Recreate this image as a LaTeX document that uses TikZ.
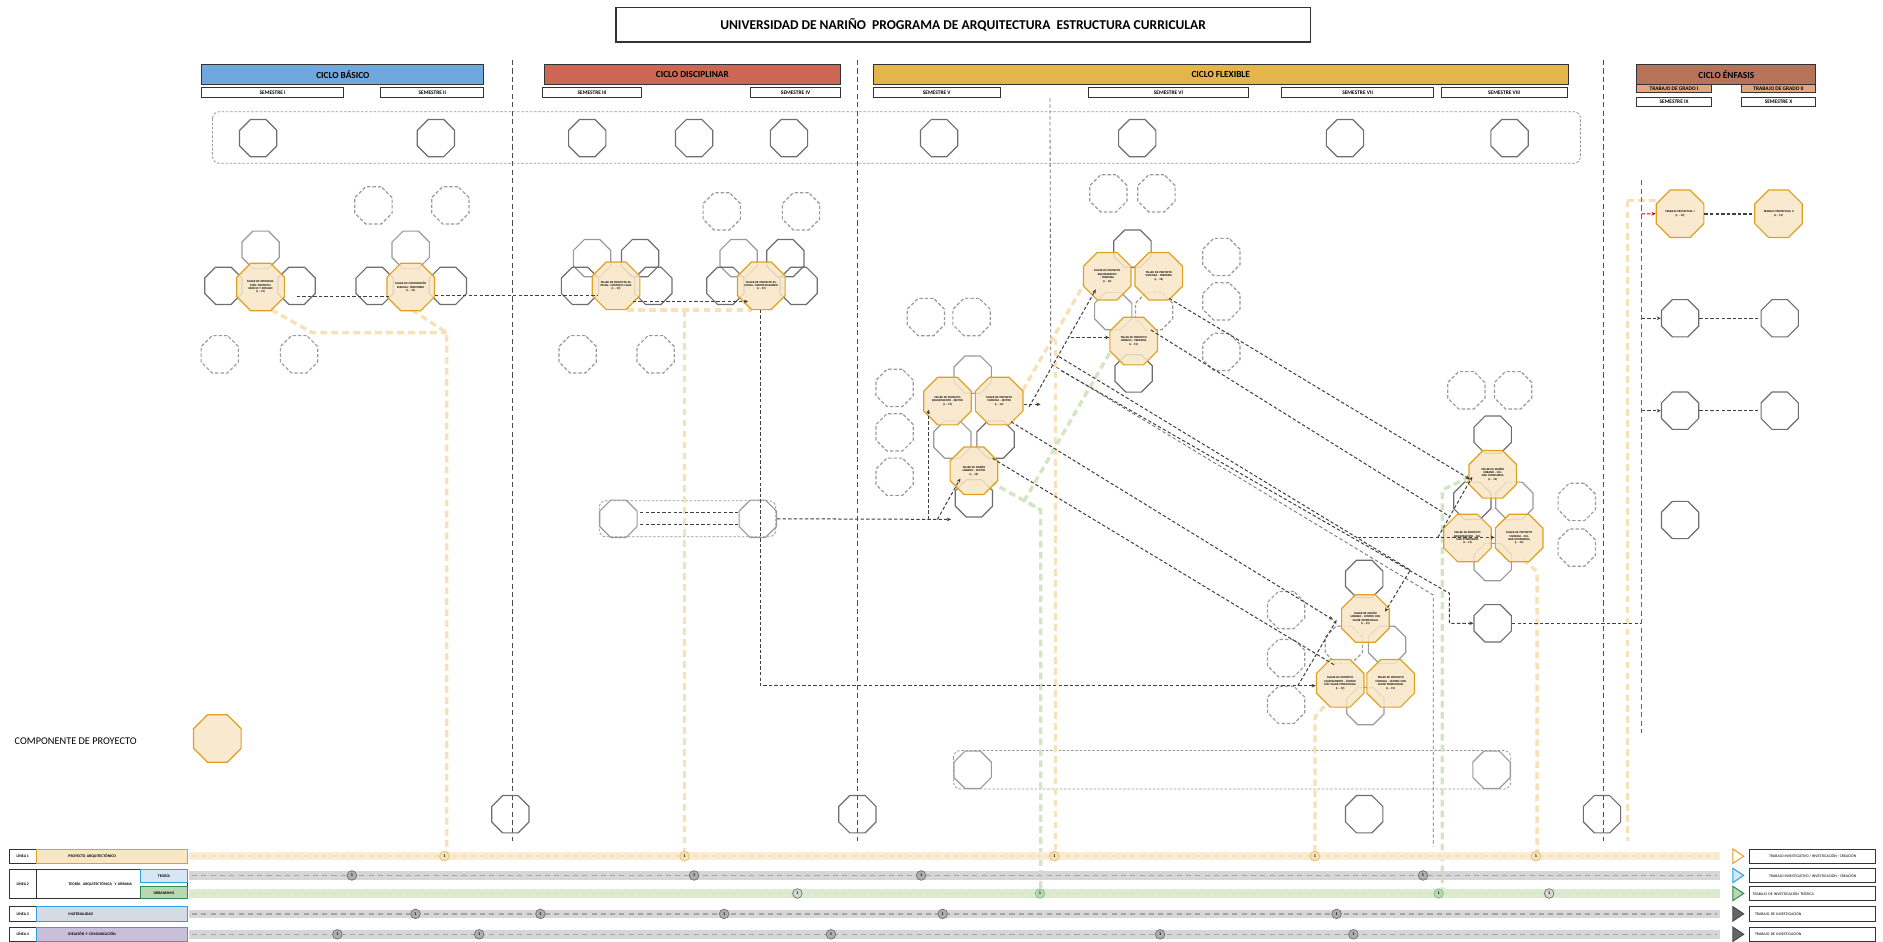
\documentclass[tikz,border=0pt]{standalone}
\usepackage{fontspec}
\setmainfont{Carlito}
\usetikzlibrary{shapes.geometric,arrows.meta,calc}
\definecolor{cbas}{HTML}{6FA8DC}
\definecolor{cdis}{HTML}{CC6655}
\definecolor{cflex}{HTML}{E3B54A}
\definecolor{cenf}{HTML}{B5735A}
\definecolor{ctg}{HTML}{E6A582}
\definecolor{orfill}{HTML}{F8E6C6}
\definecolor{ordraw}{HTML}{E0A020}
\definecolor{octg}{HTML}{6E6E6E}
\definecolor{octl}{HTML}{9A9A9A}
\definecolor{paleor}{HTML}{F7E1B8}
\definecolor{palegr}{HTML}{D2E6C4}
\definecolor{bandg}{HTML}{D6D6D6}
\definecolor{bandgd}{HTML}{A6A6A6}
\definecolor{bando}{HTML}{FBEBD3}
\definecolor{bandgr}{HTML}{DCEBD0}
\definecolor{teof}{HTML}{D7E6F5}
\definecolor{teod}{HTML}{2BA3E0}
\definecolor{urbf}{HTML}{B9D7B0}
\definecolor{urbd}{HTML}{2E8B57}
\definecolor{matf}{HTML}{D5DBE5}
\definecolor{idef}{HTML}{C9BFDC}
\tikzset{
  oct/.style={regular polygon, regular polygon sides=8, minimum size=0.84cm, inner sep=0pt, line width=0.7pt},
  goct/.style={oct, draw=octg},
  loct/.style={oct, draw=octl},
  doct/.style={oct, draw=octl, dash pattern=on 2pt off 1.2pt},
  toct/.style={oct, draw=octg},
  ooct/.style={oct, minimum size=1.0cm, draw=ordraw, fill=orfill, fill opacity=0.85, text opacity=1, align=center, font=\fontsize{1.7}{2.0}\selectfont\bfseries, text width=0.7cm},
  cyc/.style={draw=black!80, line width=0.6pt, font=\fontsize{5.5}{6}\selectfont\bfseries, inner sep=0pt},
  sem/.style={draw=black!80, fill=white, line width=0.6pt, font=\fontsize{3.2}{4}\selectfont\bfseries, inner sep=0pt},
  vsep/.style={draw=black!70, line width=0.5pt, dash pattern=on 3pt off 2pt},
  gline/.style={draw=black!55, line width=0.5pt, dash pattern=on 2pt off 1.5pt},
  cdash/.style={draw=black!75, line width=0.6pt, dash pattern=on 2pt off 1.3pt},
  carr/.style={cdash, -{Stealth[length=2.5pt,width=2.2pt]}},
  podash/.style={draw=paleor, line width=2pt, dash pattern=on 4pt off 2.5pt},
  pgdash/.style={draw=palegr, line width=2pt, dash pattern=on 4pt off 2.5pt},
  rrect/.style={draw=octl, line width=0.5pt, dash pattern=on 1.5pt off 1pt, rounded corners=4pt},
  lbox/.style={draw=black!80, line width=0.6pt, inner sep=0pt, font=\fontsize{2.3}{3}\selectfont\bfseries},
  bmark/.style={circle, draw=octg, fill=octl!80, minimum size=0.2cm, inner sep=0pt, font=\fontsize{2.5}{3}\selectfont\bfseries},
  omark/.style={circle, draw=ordraw!70, fill=paleor, minimum size=0.2cm, inner sep=0pt, font=\fontsize{2.5}{3}\selectfont\bfseries},
  gmark/.style={circle, draw=urbd!60, fill=urbf, minimum size=0.2cm, inner sep=0pt, font=\fontsize{2.5}{3}\selectfont\bfseries}
}
\begin{document}
\begin{tikzpicture}[x=0.025cm,y=-0.025cm]
\useasboundingbox (0,0) rectangle (1568,784);
\fill[white] (0,0) rectangle (1568,784);
% title
\node[draw=black!80, line width=0.7pt, minimum width=578*0.025cm, minimum height=29*0.025cm, inner sep=0pt, font=\fontsize{8}{9}\selectfont\bfseries] (title) at (802,20.5) {UNIVERSIDAD DE NARIÑO\ \ PROGRAMA DE ARQUITECTURA\ \ ESTRUCTURA CURRICULAR};
% cycles
\node[cyc, fill=cbas, minimum width=235*0.025cm, minimum height=16*0.025cm] (cb) at (285.5,62) {CICLO BÁSICO};
\node[cyc, fill=cdis, minimum width=247*0.025cm, minimum height=16*0.025cm] (cd) at (576.5,62) {CICLO DISCIPLINAR};
\node[cyc, fill=cflex, minimum width=579*0.025cm, minimum height=17*0.025cm] (cf) at (1016.5,62) {CICLO FLEXIBLE};
\node[cyc, fill=cenf, minimum width=149*0.025cm, minimum height=16*0.025cm] (ce) at (1437.5,62) {CICLO ÉNFASIS};
% semesters
\node[sem, minimum width=118*0.025cm, minimum height=8*0.025cm] (s1) at (227,77) {SEMESTRE I};
\node[sem, minimum width=86*0.025cm, minimum height=8*0.025cm] (s2) at (360,77) {SEMESTRE II};
\node[sem, minimum width=82*0.025cm, minimum height=8*0.025cm] (s3) at (493,77) {SEMESTRE III};
\node[sem, minimum width=75*0.025cm, minimum height=8*0.025cm] (s4) at (662.5,77) {SEMESTRE IV};
\node[sem, minimum width=106*0.025cm, minimum height=8*0.025cm] (s5) at (780,77) {SEMESTRE V};
\node[sem, minimum width=134*0.025cm, minimum height=8*0.025cm] (s6) at (973,77) {SEMESTRE VI};
\node[sem, minimum width=127*0.025cm, minimum height=8*0.025cm] (s7) at (1130.5,77) {SEMESTRE VII};
\node[sem, minimum width=105*0.025cm, minimum height=8*0.025cm] (s8) at (1252.5,77) {SEMESTRE VIII};
\node[sem, fill=ctg, minimum width=62*0.025cm, minimum height=7*0.025cm] (tg1) at (1394,73.5) {TRABAJO DE GRADO I};
\node[sem, fill=ctg, minimum width=62*0.025cm, minimum height=7*0.025cm] (tg2) at (1481,73.5) {TRABAJO DE GRADO II};
\node[sem, minimum width=62*0.025cm, minimum height=8*0.025cm] (s9) at (1394,85) {SEMESTRE IX};
\node[sem, minimum width=62*0.025cm, minimum height=8*0.025cm] (s10) at (1481,85) {SEMESTRE X};
% vertical separators
\draw[vsep] (427,50) -- (427,700);
\draw[vsep] (714,50) -- (714,700);
\draw[vsep] (1335,50) -- (1335,700);
% dashed rounded rects
\draw[rrect] (177,93) rectangle (1316,136);
\draw[rrect] (499,417) rectangle (646,447);
\draw[rrect] (794,625) rectangle (1258,657);
% top row
\foreach \n/\x in {1/215,2/363,3/489,4/578,5/657,6/782,7/947,8/1120,9/1257}
  \node[toct] (t\n) at (\x,115) {};
% pale lines (behind)
\draw[podash] (522,258) -- (626,258);
\draw[podash] (570,258) -- (570,712);
\draw[podash] (226,258) -- (260,277) -- (372,277);
\draw[podash] (343,258) -- (372,277) -- (372,712);
\draw[podash] (847,333) -- (903,236);
\draw[podash] (879,282) -- (879,712);
\draw[podash] (1103,588) -- (1095,597) -- (1095,712);
\draw[podash] (1268,466) -- (1280,476) -- (1280,712);
\draw[pgdash] (924,294) -- (853.2,416.4) -- (866.6,424.7) -- (866.6,744);
\draw[pgdash] (824.5,401) -- (866.6,424.7);
\draw[pgdash] (1224,397) -- (1201,408) -- (1201,744);
\draw[podash] (1355,167) -- (1355,700);
\draw[podash] (1355,167) -- (1384,167);
% semester I
\node[loct] (g1a) at (217,208) {};
\node[goct] (g1l) at (186,238) {};
\node[goct] (g1r) at (247,238) {};
\node[doct] (d1a) at (183,295) {};
\node[doct] (d1b) at (249,295) {};
\node[ooct] (o1) at (217,239) {TALLER DE INTRODUCCIÓN: PROYECTO, ESPACIO Y REFUGIO\\(L - 19)};
% semester II
\node[loct] (g2a) at (342,208) {};
\node[goct] (g2l) at (312,238) {};
\node[goct] (g2r) at (373,238) {};
\node[doct] (d2a) at (311,171) {};
\node[doct] (d2b) at (375,171) {};
\node[ooct] (o2) at (342,239) {TALLER DE COMPOSICIÓN ESPACIAL: TERRITORIO\\(L - 19)};
% semester III
\node[loct] (g3a) at (493,215) {};
\node[goct] (g3b) at (533,215) {};
\node[goct] (g3l) at (483,238) {};
\node[goct] (g3r) at (544,238) {};
\node[doct] (d3a) at (481,295) {};
\node[doct] (d3b) at (546,295) {};
\node[ooct] (o3) at (513,238) {TALLER DE PROYECTO ESPACIAL: CONTEXTO CALLE\\(L - 19)};
% semester IV
\node[loct] (g4a) at (615,215) {};
\node[goct] (g4b) at (654,215) {};
\node[goct] (g4l) at (604,238) {};
\node[goct] (g4r) at (665,238) {};
\node[doct] (d4a) at (601,176) {};
\node[doct] (d4b) at (667,176) {};
\node[ooct] (o4) at (634,238) {TALLER DE PROYECTO ESPACIAL: CONTEXTO BARRIO\\(L - 19)};
% semester V
\node[loct] (g5a) at (810,312) {};
\node[loct] (g5l) at (793,366) {};
\node[goct] (g5r) at (829,366) {};
\node[goct] (g5b) at (811,415) {};
\node[doct] (d5a) at (745,323) {};
\node[doct] (d5b) at (745,360) {};
\node[doct] (d5c) at (745,397) {};
\node[doct] (d5d) at (771,264) {};
\node[doct] (d5e) at (809,264) {};
\node[ooct] (o5a) at (789,334) {TALLER DE PROYECTO EQUIPAMIENTO - SECTOR\\(L - 19)};
\node[ooct] (o5b) at (832,334) {TALLER DE PROYECTO VIVIENDA - SECTOR\\(L - 19)};
\node[ooct] (o5c) at (811,392) {TALLER DE DISEÑO URBANO - SECTOR\\(L - 19)};
% semester VI
\node[goct] (g6a) at (943,207) {};
\node[loct] (g6l) at (927,259) {};
\node[doct] (g6r) at (961,259) {};
\node[goct] (g6b) at (944,311) {};
\node[doct] (d6a) at (923,161) {};
\node[doct] (d6b) at (963,161) {};
\node[doct] (d6c) at (1017,214) {};
\node[doct] (d6d) at (1017,251) {};
\node[doct] (d6e) at (1017,293) {};
\node[ooct] (o6a) at (922,230) {TALLER DE PROYECTO EQUIPAMIENTO - PERIFERIA\\(L - 19)};
\node[ooct] (o6b) at (965,230) {TALLER DE PROYECTO VIVIENDA - PERIFERIA\\(L - 19)};
\node[ooct] (o6c) at (944,284) {TALLER DE PROYECTO URBANO - PERIFERIA\\(L - 19)};
% semester VII
\node[goct] (g7a) at (1136,482) {};
\node[doct] (g7l) at (1119,537) {};
\node[loct] (g7r) at (1155,537) {};
\node[loct] (g7b) at (1137,588) {};
\node[doct] (d7a) at (1071,508) {};
\node[doct] (d7b) at (1071,548) {};
\node[doct] (d7c) at (1071,587) {};
\node[ooct] (o7a) at (1137,515) {TALLER DE DISEÑO URBANO - CENTRO CON VALOR PATRIMONIAL\\(L - 19)};
\node[ooct] (o7b) at (1116,569) {TALLER DE PROYECTO EQUIPAMIENTO - CENTRO CON VALOR PATRIMONIAL\\(L - 19)};
\node[ooct] (o7c) at (1158,569) {TALLER DE PROYECTO VIVIENDA - CENTRO CON VALOR PATRIMONIAL\\(L - 19)};
% semester VIII
\node[goct] (g8a) at (1243,362) {};
\node[goct] (g8l) at (1226,417) {};
\node[loct] (g8r) at (1261,417) {};
\node[loct] (g8b) at (1243,468) {};
\node[doct] (d8a) at (1313,418) {};
\node[doct] (d8b) at (1313,456) {};
\node[doct] (d8c) at (1221,325) {};
\node[doct] (d8d) at (1260,325) {};
\node[goct] (g8c) at (1243,519) {};
\node[ooct] (o8a) at (1243,395) {TALLER DE DISEÑO URBANO - CIUDAD INTERMEDIA\\(L - 19)};
\node[ooct] (o8b) at (1222,448) {TALLER DE PROYECTO EQUIPAMIENTO - CIUDAD INTERMEDIA\\(L - 19)};
\node[ooct] (o8c) at (1265,448) {TALLER DE PROYECTO VIVIENDA - CIUDAD INTERMEDIA\\(L - 19)};
% enfasis
\node[ooct] (o9a) at (1399,178) {TRABAJO PROYECTUAL I\\(L - 19)};
\node[ooct] (o9b) at (1481,178) {TRABAJO PROYECTUAL II\\(L - 19)};
\node[goct] (e1) at (1399,265) {};
\node[goct] (e2) at (1482,265) {};
\node[goct] (e3) at (1399,342) {};
\node[goct] (e4) at (1482,342) {};
\node[goct] (e5) at (1399,433) {};
% rect contents
\node[loct] (ra) at (515,432) {};
\node[loct] (rb) at (631,432) {};
\node[loct] (rc) at (810,641) {};
\node[loct] (rd) at (1242,641) {};
% bottom octagons
\node[goct] (b1) at (425,678) {};
\node[goct] (b2) at (714,678) {};
\node[goct] (b3) at (1136,678) {};
\node[goct] (b4) at (1334,678) {};
% legend
\node[anchor=west, font=\fontsize{6.1}{7}\selectfont, inner sep=0pt] (leg) at (12,617) {COMPONENTE DE PROYECTO};
\node[ooct] (lego) at (181,615) {};
% connectors
\draw[cdash] (g1r.center |- 0,247) -- (325,247);
\draw[cdash] (o2.east |- 0,246) -- (497,246);
\draw[carr] (527,251) -- (623,251);
\draw[carr] (633,258) -- (633,571) -- (o7b.west |- 0,571);
\draw[carr] (1080.7,571) -- (1113,516.3);
\draw[cdash] (533,427) -- (616,427);
\draw[cdash] (533,437) -- (616,437);
\draw[carr] (rb.east) -- (792,432.5);
\draw[carr] (773,432.5) -- (773,341);
\draw[carr] (780.6,432.5) -- (799.7,398.4);
\draw[carr] (o5b.east |- 0,336.7) -- (866.6,336.7);
\draw[carr] (857,338.7) -- (912.5,241);
\draw[carr] (891.5,281) -- (o6c.west |- 0,281);
\draw[gline] (874.3,82) -- (875,303) -- (1193.5,495.5) -- (1193.5,705);
\draw[carr] (973.6,248.5) -- (1224,399);
\draw[cdash] (958.4,274.8) -- (1207,430);
\draw[carr] (881.9,297) -- (1174.4,474.7) -- (1153.3,509.4);
\draw[carr] (883.8,308.7) -- (1206.9,494) -- (1206.9,519) -- (g8c.west);
\draw[carr] (841.8,351.2) -- (1110,516);
\draw[cdash] (826.5,381.7) -- (1111.3,553.8);
\draw[carr] (1130.4,447.5) -- (o8c.west |- 0,447.5);
\draw[carr] (1197.3,447.5) -- (1226,397);
\draw[cdash] (g8c.east) -- (1367,519);
\draw[vsep, draw=black!60] (1367,150) -- (1367,610);
\draw[carr, draw=red!80!black] (1367,178) -- (o9a.west);
\draw[cdash, line width=0.9pt] (o9a.east) -- (o9b.west);
\draw[carr] (1367,265) -- (e1.west);
\draw[cdash] (e1.east) -- (e2.west);
\draw[carr] (1367,342) -- (e3.west);
\draw[cdash] (e3.east) -- (e4.west);
% bands
\foreach \y/\c/\d in {713/bando/paleor,729/bandg/bandgd,744/bandgr/palegr,761/bandg/bandgd,778/bandg/bandgd}{
  \fill[\c] (157,\y-3.5) rectangle (1432,\y+3.5);
  \draw[\d, line width=0.9pt, dash pattern=on 3pt off 2.5pt] (160,\y) -- (1430,\y);
}
% left legend boxes
\node[lbox, minimum width=22*0.025cm, minimum height=12*0.025cm] (l1) at (19,713) {LÍNEA 1};
\node[lbox, draw=ordraw, fill=orfill, minimum width=126*0.025cm, minimum height=12*0.025cm, text width=2.9cm] (p1) at (93,713) {\hspace*{0.55cm}PROYECTO ARQUITECTÓNICO};
\node[lbox, minimum width=22*0.025cm, minimum height=24*0.025cm] (l2) at (19,736) {LÍNEA 2};
\node[lbox, minimum width=126*0.025cm, minimum height=24*0.025cm, text width=2.9cm] (p2) at (93,736) {\hspace*{0.55cm}TEORÍA\ \ ARQUITECTÓNICA\ \ Y URBANA};
\node[lbox, draw=teod, fill=teof, minimum width=39*0.025cm, minimum height=11*0.025cm] (p2a) at (136.5,729.5) {TEORÍA};
\node[lbox, draw=urbd, fill=urbf, minimum width=39*0.025cm, minimum height=10*0.025cm] (p2b) at (136.5,743.5) {URBANISMO};
\node[lbox, minimum width=22*0.025cm, minimum height=12*0.025cm] (l3) at (19,761) {LÍNEA 3};
\node[lbox, draw=teod, fill=matf, minimum width=126*0.025cm, minimum height=12*0.025cm, text width=2.9cm] (p3) at (93,761) {\hspace*{0.55cm}MATERIALIDAD};
\node[lbox, minimum width=22*0.025cm, minimum height=12*0.025cm] (l4) at (19,778) {LÍNEA 4};
\node[lbox, draw=teod, fill=idef, minimum width=126*0.025cm, minimum height=12*0.025cm, text width=2.9cm] (p4) at (93,778) {\hspace*{0.55cm}IDEACIÓN Y COMUNICACIÓN};
% right triangles
\foreach \y/\c/\f in {713/ordraw/white,729/teod/teof,744/urbd/urbf,761/black!70/black!60,778/black!70/black!60}{
  \draw[\c, fill=\f, line width=0.6pt] (1443,\y-6) -- (1452,\y) -- (1443,\y+6) -- cycle;
}
\node[lbox, minimum width=105*0.025cm, minimum height=12*0.025cm, font=\fontsize{2.3}{3}\selectfont] (r1) at (1509.5,713) {TRABAJO INVESTIGATIVO / INVESTIGACIÓN - CREACIÓN};
\node[lbox, minimum width=105*0.025cm, minimum height=12*0.025cm, font=\fontsize{2.3}{3}\selectfont] (r2) at (1509.5,729) {TRABAJO INVESTIGATIVO / INVESTIGACIÓN - CREACIÓN};
\node[lbox, minimum width=105*0.025cm, minimum height=12*0.025cm, font=\fontsize{2.3}{3}\selectfont, text width=2.5cm] (r3) at (1509.5,744) {TRABAJO DE INVESTIGACIÓN TEÓRICA};
\node[lbox, minimum width=105*0.025cm, minimum height=12*0.025cm, font=\fontsize{2.3}{3}\selectfont, text width=2.4cm] (r4) at (1509.5,761) {TRABAJO DE INVESTIGACIÓN};
\node[lbox, minimum width=105*0.025cm, minimum height=12*0.025cm, font=\fontsize{2.3}{3}\selectfont, text width=2.4cm] (r5) at (1509.5,778) {TRABAJO DE INVESTIGACIÓN};
% markers
\foreach \x in {370,570,878,1095,1279} \node[omark] at (\x,713) {1};
\foreach \x in {293,578,767,1185} \node[bmark] at (\x,729) {1};
\foreach \x in {664,1290} \node[bmark, fill=bandg] at (\x,744) {1};
\foreach \x in {866,1198} \node[gmark] at (\x,744) {1};
\foreach \x in {346,450,603,785,1113} \node[bmark] at (\x,761) {1};
\foreach \x in {281,399,692,966,1127} \node[bmark] at (\x,778) {1};
\end{tikzpicture}
\end{document}
